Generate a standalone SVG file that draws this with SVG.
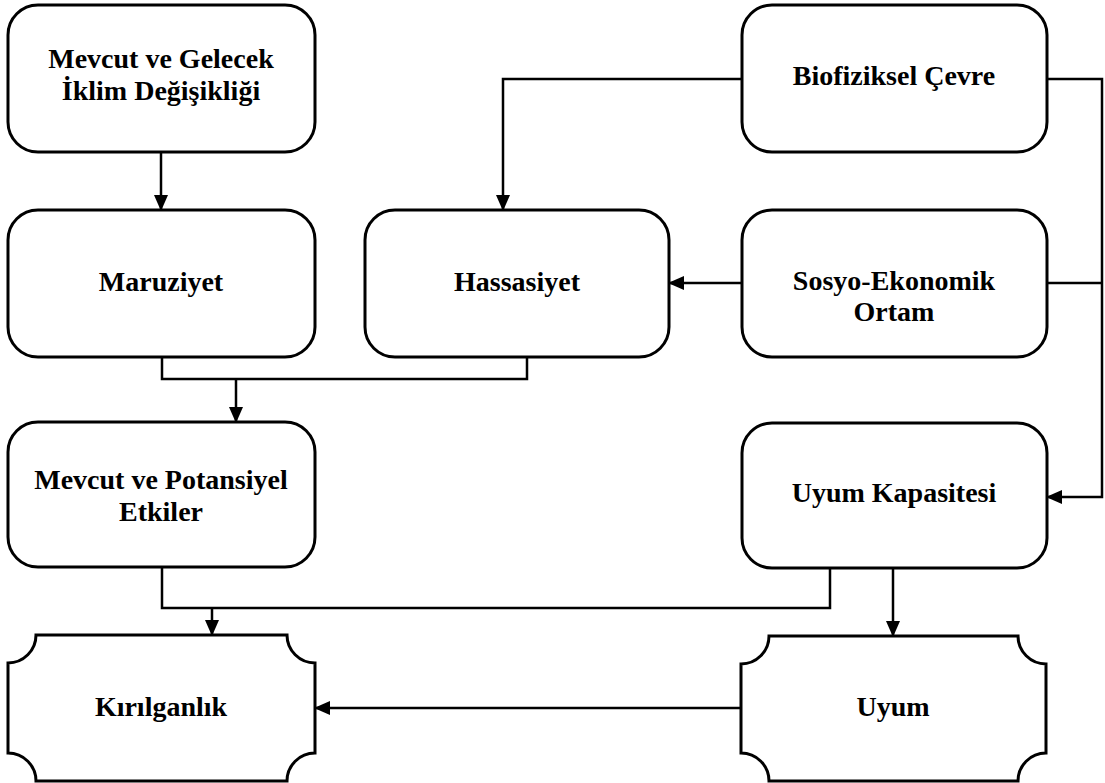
<svg xmlns="http://www.w3.org/2000/svg" width="1105" height="783" viewBox="0 0 1105 783" font-family="Liberation Serif, Times New Roman, serif">
<style>
.box{fill:#fff;stroke:#000;stroke-width:3}
.c{fill:none;stroke:#000;stroke-width:2.5}
.a{marker-end:url(#ah)}
</style>
<defs>
<marker id="ah" markerUnits="userSpaceOnUse" markerWidth="16" markerHeight="14" refX="14" refY="7" orient="auto">
<path d="M0,0 L16,7 L0,14 Z" fill="#000"/>
</marker>
</defs>
<rect width="1105" height="783" fill="#fff"/>
<g id="connectors">
<path class="c a" d="M161,152 V209"/>
<path class="c a" d="M742,79 H503 V209"/>
<path class="c a" d="M1047,79 H1102 V497 H1048"/>
<path class="c" d="M1047,283 H1102"/>
<path class="c a" d="M742,283 H670"/>
<path class="c" d="M162,357 V379 H527 V357"/>
<path class="c a" d="M236,379 V421"/>
<path class="c" d="M830,568 V608 H162 V567"/>
<path class="c a" d="M212,608 V634"/>
<path class="c a" d="M893,568 V635"/>
<path class="c a" d="M741,708 H316"/>
</g>
<g font-family="Liberation Serif, Times New Roman, serif" font-weight="bold" font-size="28" text-anchor="middle" fill="#000">
<g id="n1"><rect class="box" x="8" y="5" width="307" height="147" rx="30"/>
<text x="161" y="68">Mevcut ve Gelecek</text><text x="161" y="100">İklim Değişikliği</text></g>
<g id="n2"><rect class="box" x="742" y="5" width="305" height="147" rx="30"/>
<text x="894" y="85">Biofiziksel Çevre</text></g>
<g id="n3"><rect class="box" x="8" y="210" width="307" height="147" rx="30"/>
<text x="161" y="291">Maruziyet</text></g>
<g id="n4"><rect class="box" x="365" y="210" width="304" height="147" rx="30"/>
<text x="517" y="291">Hassasiyet</text></g>
<g id="n5"><rect class="box" x="742" y="210" width="305" height="147" rx="30"/>
<text x="894" y="290">Sosyo-Ekonomik</text><text x="894" y="321">Ortam</text></g>
<g id="n6"><rect class="box" x="8" y="422" width="307" height="145" rx="30"/>
<text x="161" y="489">Mevcut ve Potansiyel</text><text x="161" y="521">Etkiler</text></g>
<g id="n7"><rect class="box" x="742" y="423" width="305" height="145" rx="30"/>
<text x="894" y="502">Uyum Kapasitesi</text></g>
<g id="n8"><path class="box" d="M36,635 H287 A28,28 0 0 0 315,663 V753 A28,28 0 0 0 287,781 H36 A28,28 0 0 0 8,753 V663 A28,28 0 0 0 36,635 Z"/>
<text x="161" y="716">Kırılganlık</text></g>
<g id="n9"><path class="box" d="M769,636 H1018 A28,28 0 0 0 1046,664 V753 A28,28 0 0 0 1018,781 H769 A28,28 0 0 0 741,753 V664 A28,28 0 0 0 769,636 Z"/>
<text x="893" y="716">Uyum</text></g>
</g>
</svg>
